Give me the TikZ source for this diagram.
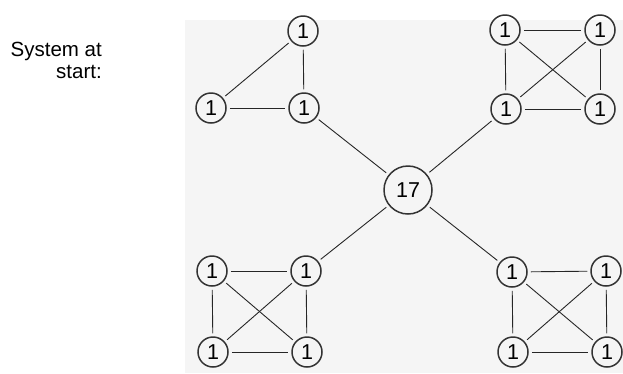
\documentclass[tikz,border=0pt]{standalone}
\usepackage{fontspec}
\setmainfont{Liberation Sans}
\begin{document}
\begin{tikzpicture}[x=1pt,y=-1pt,
  nd/.style={circle,draw=black!80,line width=1.5pt,inner sep=0pt,minimum size=30pt,font=\fontsize{21.5}{21.5}\selectfont,text=black},
  big/.style={nd,minimum size=48pt},
  ln/.style={draw=black!85,line width=0.9pt,shorten >=3pt,shorten <=3pt},
  lbl/.style={align=right,font=\fontsize{20.5}{22}\selectfont,inner sep=0pt}]
\useasboundingbox (0,0) rectangle (623,373);
\fill[black!4] (185,20) rectangle (623,373);
\node[lbl,anchor=north east] (title) at (102,42) {System at\\start:};
% center
\node[big] (c) at (408,190) {17};
% triangle
\node[nd] (t1) at (303,31) {1};
\node[nd] (t2) at (211,108) {1};
\node[nd] (t3) at (304,108) {1};
% top-right square
\node[nd] (a1) at (505,30) {1};
\node[nd] (a2) at (600,30) {1};
\node[nd] (a3) at (506,109) {1};
\node[nd] (a4) at (600,109) {1};
% bottom-left square
\node[nd] (b1) at (212,271) {1};
\node[nd] (b2) at (306,271) {1};
\node[nd] (b3) at (213,352) {1};
\node[nd] (b4) at (307,352) {1};
% bottom-right square
\node[nd] (d1) at (512,272) {1};
\node[nd] (d2) at (606,271) {1};
\node[nd] (d3) at (513,352) {1};
\node[nd] (d4) at (607,352) {1};
% edges
\draw[ln] (t1)--(t2); \draw[ln] (t1)--(t3); \draw[ln] (t2)--(t3);
\draw[ln] (t3)--(c);
\foreach \p in {a,b,d}{
  \draw[ln] (\p1)--(\p2); \draw[ln] (\p1)--(\p3); \draw[ln] (\p2)--(\p4);
  \draw[ln] (\p3)--(\p4); \draw[ln] (\p1)--(\p4); \draw[ln] (\p2)--(\p3);
}
\draw[ln] (a3)--(c);
\draw[ln] (b2)--(c);
\draw[ln] (d1)--(c);
\end{tikzpicture}
\end{document}
